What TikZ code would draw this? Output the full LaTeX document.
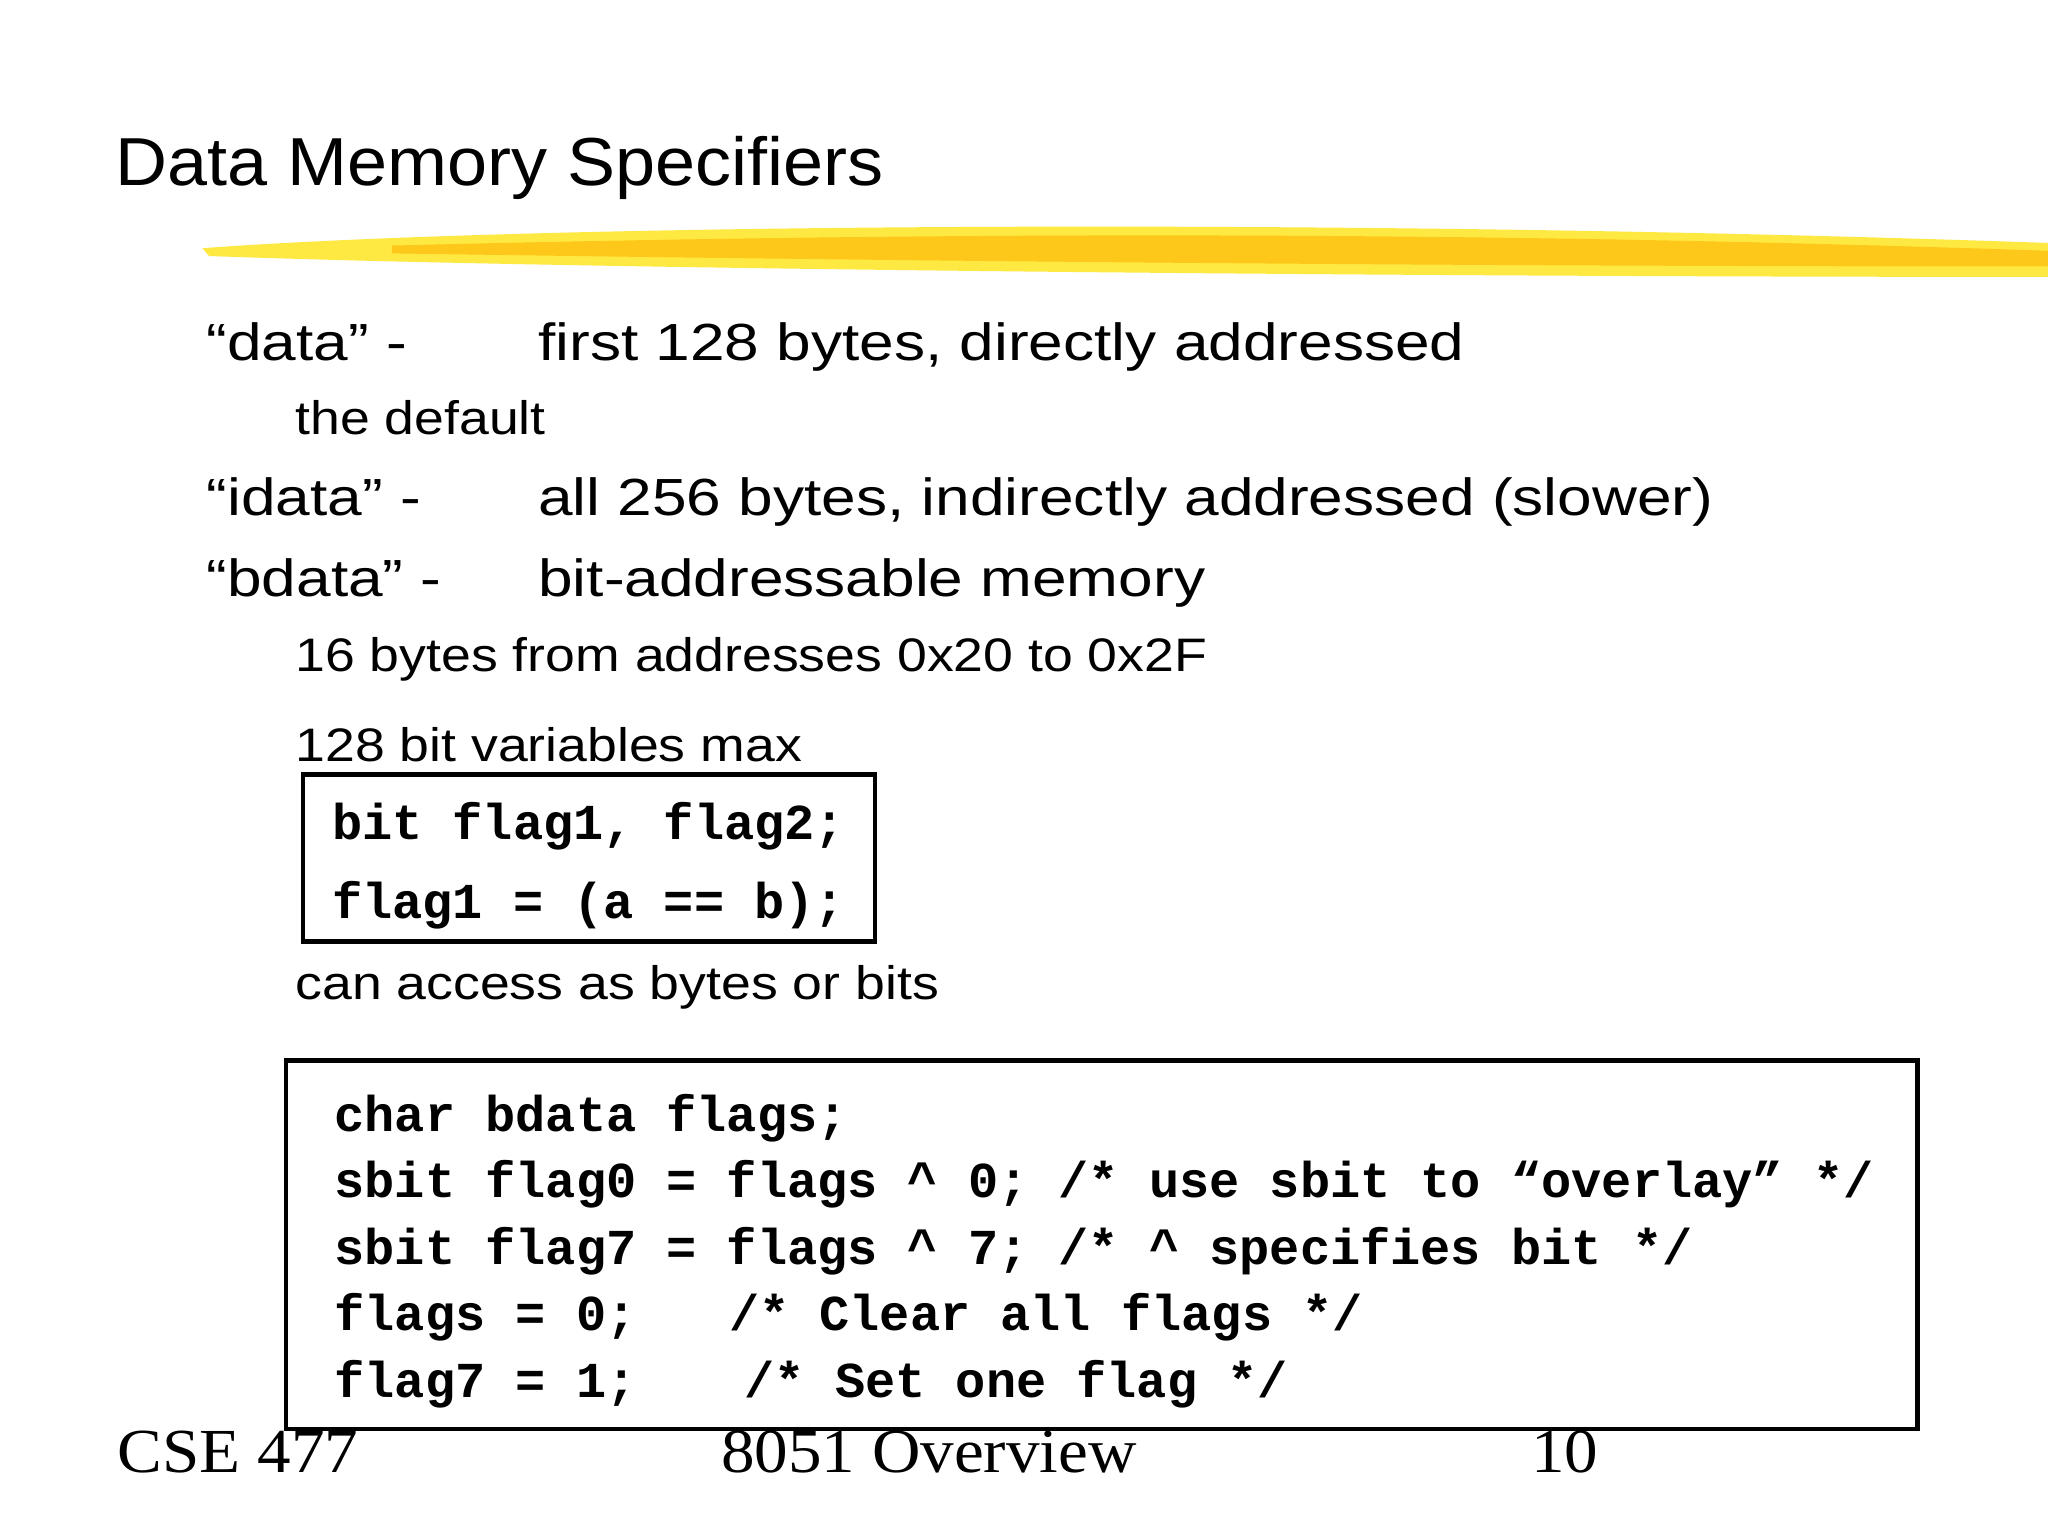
\documentclass[tikz,border=0pt]{standalone}
\usepackage{fontspec}
\setmainfont{Liberation Sans}
\newfontfamily\wide[FakeStretch=1.19]{Liberation Sans}
\newfontfamily\subf[FakeStretch=1.14]{Liberation Sans}
\newfontfamily\titf[FakeStretch=1.06]{Liberation Sans}
\newfontfamily\codef{Liberation Mono}
\newfontfamily\footf[FakeStretch=1.07]{Liberation Serif}
\begin{document}
\begin{tikzpicture}[x=1pt,y=-1pt,
  txt/.style={anchor=base west,inner sep=0pt,font=\wide\fontsize{40}{40}\selectfont},
  sub/.style={anchor=base west,inner sep=0pt,font=\subf\fontsize{36}{36}\selectfont},
  code/.style={anchor=base west,inner sep=0pt,font=\codef\bfseries\fontsize{38.5}{38.5}\selectfont},
  foot/.style={anchor=base west,inner sep=0pt,font=\footf\fontsize{48}{48}\selectfont},
  box/.style={draw=black,line width=3.5pt}]
\useasboundingbox (0,0) rectangle (1568,1176);
\fill[white] (0,0) rectangle (1568,1176);
% brush stroke
\fill[yellow!85!orange,opacity=0.75] (155,190) .. controls (400,172) and (1000,166) .. (1568,186) -- (1568,212) .. controls (1000,212) and (400,205) .. (160,196) -- cycle;
\fill[orange!60!yellow,opacity=0.6] (300,188) .. controls (700,178) and (1100,176) .. (1568,192) -- (1568,204) .. controls (1100,204) and (700,200) .. (300,194) -- cycle;
\node[anchor=base west,inner sep=0pt,font=\titf\fontsize{52}{52}\selectfont] (title) at (88,142) {Data Memory Specifiers};
\node[txt] (d1) at (158,276) {“data” -};
\node[txt] (d2) at (412,276) {first 128 bytes, directly addressed};
\node[sub] (d3) at (226,333) {the default};
\node[txt] (i1) at (158,395) {“idata” -};
\node[txt] (i2) at (412,395) {all 256 bytes, indirectly addressed (slower)};
\node[txt] (b1) at (158,457) {“bdata” -};
\node[txt] (b2) at (412,457) {bit-addressable memory};
\node[sub] (b3) at (226,514) {16 bytes from addresses 0x20 to 0x2F};
\node[sub] (b4) at (226,583) {128 bit variables max};
\draw[box] (232,593) rectangle (670,721);
\node[code] (c1) at (254,643) {bit flag1, flag2;};
\node[code] (c2) at (254,703) {flag1 = (a == b);};
\node[sub] (b5) at (226,765) {can access as bytes or bits};
\draw[box] (219,812) rectangle (1468,1094);
\node[code] (e1) at (256,866) {char bdata flags;};
\node[code] (e2) at (256,917) {sbit flag0 = flags \^{} 0; /* use sbit to “overlay” */};
\node[code] (e3) at (256,968) {sbit flag7 = flags \^{} 7; /* \^{} specifies bit */};
\node[code] (e4) at (256,1019) {flags = 0;};
\node[code] (e4b) at (558,1019) {/* Clear all flags */};
\node[code] (e5) at (256,1070) {flag7 = 1;};
\node[code] (e5b) at (570,1070) {/* Set one flag */};
\node[foot] (f1) at (90,1127) {CSE 477};
\node[foot] (f2) at (552,1127) {8051 Overview};
\node[foot] (f3) at (1172,1127) {10};
\end{tikzpicture}
\end{document}
